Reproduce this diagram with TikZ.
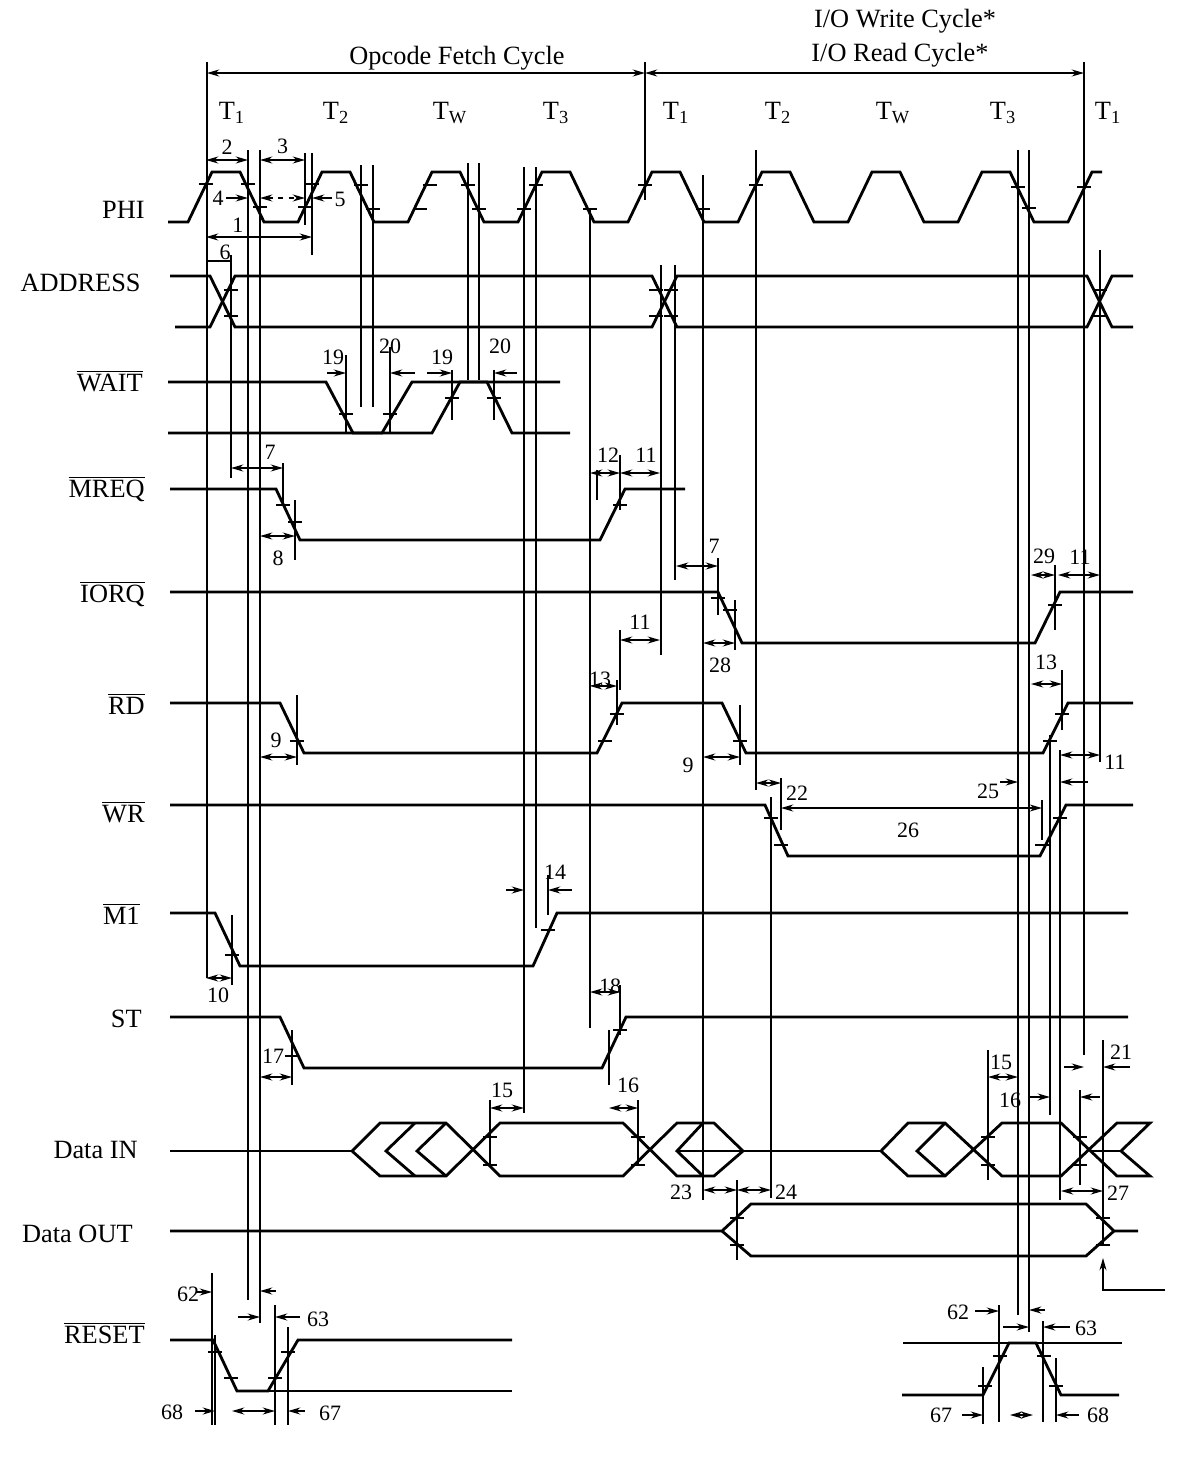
\documentclass[tikz,border=0pt]{standalone}
\usepackage{fontspec}
\setmainfont{Liberation Serif}
\usetikzlibrary{arrows.meta}

\newcommand{\vl}[3]{\draw[refline] (#1,#2) -- (#1,#3);}
\newcommand{\tk}[2]{\draw[refline] ({#1-7},#2) -- ({#1+7},#2);}

\begin{document}
\begin{tikzpicture}[
    x=0.02cm, y=-0.02cm,
    sig/.style={line width=1.6pt, line join=miter},
    refline/.style={line width=0.8pt},
    dim/.style={line width=0.8pt, >={Stealth[length=7pt,width=4pt]}},
    lbl/.style={font=\fontsize{12.5}{13}\selectfont, inner sep=1pt},
    signame/.style={font=\fontsize{15}{16}\selectfont, anchor=east, inner sep=0pt},
    headtext/.style={font=\fontsize{15}{16}\selectfont, inner sep=0pt}
]
\useasboundingbox (0,0) rectangle (1204,1458);

% headings
\node[headtext] (opfetch) at (457,58) {Opcode Fetch Cycle};
\node[headtext] (iowrite) at (905,21) {I/O Write Cycle*};
\node[headtext] (ioread) at (900,55) {I/O Read Cycle*};
\vl{207}{62}{978} \vl{645}{62}{200} \vl{1084}{62}{1055}
\draw[dim,<->] (207,73) -- (645,73);
\draw[dim,<->] (645,73) -- (1084,73);
\foreach \x/\t in {232/1,336/2,450/W,556/3,676/1,778/2,893/W,1003/3,1108/1}
    {\node[headtext] at (\x,113) {T$_{\mathrm{\t}}$};}

% signal names
\node[signame] (nphi) at (145,210) {PHI};
\node[signame] (naddr) at (141,283) {ADDRESS};
\node[signame] (nwait) at (143,381) {$\overline{\mbox{WAIT}}$};
\node[signame] (nmreq) at (145,489) {$\overline{\mbox{MREQ}}$};
\node[signame] (niorq) at (145,594) {$\overline{\mbox{IORQ}}$};
\node[signame] (nrd) at (145,704) {$\overline{\mbox{RD}}$};
\node[signame] (nwr) at (145,812) {$\overline{\mbox{WR}}$};
\node[signame] (nmone) at (140,914) {$\overline{\mbox{M1}}$};
\node[signame] (nst) at (142,1019) {ST};
\node[signame] (ndin) at (138,1150) {Data IN};
\node[signame] (ndout) at (133,1234) {Data OUT};
\node[signame] (nreset) at (145,1333) {$\overline{\mbox{RESET}}$};

% PHI clock
\draw[sig] (168,222)
  \foreach \k in {0,...,7} { -- ({188+110*\k},222) -- ({212+110*\k},172) -- ({240+110*\k},172) -- ({264+110*\k},222) -- ({298+110*\k},222) }
  -- (1068,222) -- (1092,172) -- (1102,172);

% ADDRESS
\draw[sig] (170,276) -- (210,276) -- (235,327) -- (652,327) -- (677,276) -- (1087,276) -- (1112,327) -- (1133,327);
\draw[sig] (175,327) -- (210,327) -- (235,276) -- (652,276) -- (677,327) -- (1087,327) -- (1112,276) -- (1133,276);

% WAIT
\draw[sig] (168,382) -- (326,382) -- (353,433) -- (382,433) -- (412,382) -- (560,382);
\draw[sig] (168,433) -- (432,433) -- (460,382) -- (487,382) -- (512,433) -- (570,433);

% MREQ, IORQ, RD, WR
\draw[sig] (170,489) -- (276,489) -- (300,540) -- (600,540) -- (625,489) -- (685,489);
\draw[sig] (170,592) -- (718,592) -- (742,643) -- (1035,643) -- (1060,592) -- (1133,592);
\draw[sig] (170,703) -- (280,703) -- (304,753) -- (597,753) -- (622,703) -- (722,703) -- (746,753) -- (1043,753) -- (1068,703) -- (1133,703);
\draw[sig] (170,805) -- (765,805) -- (788,856) -- (1040,856) -- (1066,805) -- (1133,805);

% M1, ST
\draw[sig] (170,913) -- (215,913) -- (240,966) -- (533,966) -- (557,913) -- (1128,913);
\draw[sig] (170,1017) -- (280,1017) -- (304,1068) -- (602,1068) -- (626,1017) -- (1128,1017);

% Data IN
\draw[sig] (170,1151) -- (352,1151);
\draw[sig] (352,1151) -- (380,1123) -- (446,1123) -- (500,1176) -- (623,1176) -- (677,1123) -- (714,1123) -- (743,1151) -- (714,1176) -- (677,1176) -- (623,1123) -- (500,1123) -- (446,1176) -- (380,1176) -- cycle;
\draw[sig] (415,1123) -- (386,1151) -- (415,1176);
\draw[sig] (446,1123) -- (417,1151) -- (446,1176);
\draw[sig] (703,1123) -- (677,1151) -- (703,1176);
\draw[sig] (677,1151) -- (881,1151);
\draw[sig] (881,1151) -- (908,1123) -- (945,1123) -- (1002,1176) -- (1061,1176) -- (1117,1123) -- (1150,1123) -- (1121,1151) -- (1150,1176) -- (1117,1176) -- (1061,1123) -- (1002,1123) -- (945,1176) -- (908,1176) -- cycle;
\draw[sig] (945,1123) -- (917,1151) -- (945,1176);
\draw[sig] (1090,1151) -- (1121,1151);

% Data OUT
\draw[sig] (170,1231) -- (722,1231) -- (751,1204) -- (1086,1204) -- (1114,1231) -- (1138,1231);
\draw[sig] (722,1231) -- (751,1256) -- (1086,1256) -- (1114,1231);

% RESET
\draw[sig] (170,1340) -- (213,1340) -- (237,1391) -- (268,1391) -- (298,1340) -- (512,1340);
\draw[sig] (237,1391) -- (512,1391);
\draw[sig] (903,1343) -- (1122,1343);
\draw[sig] (902,1395) -- (983,1395) -- (1009,1343) -- (1036,1343) -- (1061,1395) -- (1119,1395);

% reference lines
\vl{231}{255}{478} \vl{248}{150}{1300} \vl{260}{150}{1323}
\vl{305}{153}{225} \vl{312}{153}{255}
\vl{361}{165}{407} \vl{373}{165}{407} \vl{468}{163}{380} \vl{479}{163}{380}
\vl{346}{355}{432} \vl{390}{347}{432} \vl{452}{370}{420} \vl{494}{370}{420}
\vl{524}{167}{1113} \vl{536}{167}{928} \vl{590}{210}{1028}
\vl{661}{265}{655} \vl{675}{265}{580} \vl{703}{175}{1200}
\vl{756}{150}{790} \vl{771}{797}{1198}
\vl{1018}{150}{1315} \vl{1029}{150}{1332}
\vl{1050}{735}{1115} \vl{1060}{750}{1200} \vl{1100}{250}{762}
\vl{1080}{1090}{1185} \vl{1103}{1040}{1245}
% short limit marks
\vl{283}{463}{505} \vl{295}{500}{560} \vl{620}{455}{510} \vl{597}{470}{500}
\vl{620}{630}{690} \vl{718}{558}{615} \vl{735}{600}{650} \vl{1055}{565}{630}
\vl{297}{695}{765} \vl{740}{705}{765} \vl{617}{680}{725} \vl{1062}{670}{730}
\vl{781}{778}{830} \vl{1042}{800}{840}
\vl{232}{915}{985} \vl{548}{875}{915} \vl{620}{985}{1035} \vl{292}{1030}{1085} \vl{609}{1030}{1085}
\vl{490}{1100}{1165} \vl{638}{1100}{1165} \vl{988}{1050}{1180} \vl{737}{1180}{1260}
\vl{212}{1273}{1425} \vl{215}{1335}{1425} \vl{275}{1305}{1425} \vl{288}{1327}{1425}
\vl{983}{1367}{1424} \vl{999}{1305}{1422} \vl{1043}{1321}{1422} \vl{1056}{1358}{1422}

% edge marks
\foreach \x/\y in {206/184,248/184,260/207,305/207,312/184,361/185,373/209,420/209,430/185,468/185,479/209,524/209,536/185,590/209,645/185,703/209,756/185,1018/187,1029/208,1084/187,
  231/290,231/316,656/290,656/316,671/290,671/316,1100/290,1100/316,
  346/414,390/414,452/398,494/398,
  283/505,295/522,620/505,718/598,730/610,1055/605,
  297/741,605/741,617/714,740/741,1050/741,1062/714,
  771/818,781/845,1042/845,1060/818,
  232/955,548/930,292/1056,620/1030,
  490/1137,490/1165,638/1137,638/1165,988/1137,988/1165,1080/1137,1080/1165,
  737/1218,737/1245,1103/1218,1103/1245,
  215/1352,231/1378,275/1378,288/1352,985/1386,1000/1356,1044/1356,1056/1386}
  {\tk{\x}{\y}}

% timing dimensions
\draw[dim,<->] (206,160) -- (248,160) node[lbl, midway, above=2pt] (tA) {2};
\draw[dim,<->] (260,160) -- (305,160) node[lbl, midway, above=2pt] (tB) {3};
\node[lbl] (tC) at (218,198) {4};
\draw[dim,->] (226,198) -- (248,198);
\draw[dim,<->,dashed] (260,198) -- (305,198);
\draw[dim,<-] (312,198) -- (332,198);
\node[lbl] (tD) at (340,199) {5};
\draw[dim,<->] (206,237) -- (312,237) node[lbl, pos=0.3, above=1pt] (tE) {1};
\draw[refline] (206,261) -- (231,261);
\node[lbl] (tF) at (225,252) {6};
\draw[dim,->] (327,373) -- (346,373);
\node[lbl] (tG) at (333,357) {19};
\draw[dim,<-] (390,373) -- (415,373);
\node[lbl] (tH) at (390,346) {20};
\draw[dim,->] (427,373) -- (452,373);
\node[lbl] (tI) at (442,357) {19};
\draw[dim,<-] (494,373) -- (517,373);
\node[lbl] (tJ) at (500,346) {20};
\draw[dim,<->] (231,468) -- (283,468);
\node[lbl] (tK) at (270,452) {7};
\draw[dim,<->] (260,536) -- (295,536);
\node[lbl] (tL) at (278,558) {8};
\draw[dim,<->] (590,473) -- (620,473);
\node[lbl] (tM) at (608,455) {12};
\draw[dim,<->] (620,473) -- (660,473);
\node[lbl] (tN) at (646,455) {11};
\draw[dim,<->] (676,566) -- (718,566);
\node[lbl] (tO) at (714,546) {7};
\draw[dim,<->] (620,640) -- (660,640);
\node[lbl] (tP) at (640,622) {11};
\draw[dim,<->] (703,643) -- (735,643);
\node[lbl] (tQ) at (720,665) {28};
\draw[dim,<->] (1031,575) -- (1055,575);
\node[lbl] (tR) at (1044,556) {29};
\draw[dim,<->] (1058,575) -- (1100,575);
\node[lbl] (tS) at (1080,557) {11};
\draw[dim,<->] (590,686) -- (617,686);
\node[lbl] (tT) at (600,679) {13};
\draw[dim,<->] (260,757) -- (297,757);
\node[lbl] (tU) at (276,740) {9};
\draw[dim,<->] (703,757) -- (740,757);
\node[lbl] (tV) at (688,765) {9};
\draw[dim,<->] (1031,684) -- (1062,684);
\node[lbl] (tW) at (1046,662) {13};
\draw[dim,<->] (1060,755) -- (1100,755);
\node[lbl] (tX) at (1115,762) {11};
\draw[dim,<->] (756,783) -- (781,783);
\node[lbl] (tY) at (797,793) {22};
\draw[dim,->] (1000,782) -- (1018,782);
\node[lbl] (tZ) at (988,791) {25};
\draw[dim,<-] (1060,782) -- (1088,782);
\draw[dim,<->] (781,808) -- (1042,808);
\node[lbl] (taa) at (908,830) {26};
\draw[dim,->] (506,890) -- (524,890);
\draw[dim,<-] (548,890) -- (572,890);
\node[lbl] (tab) at (555,872) {14};
\draw[dim,<->] (206,978) -- (232,978);
\node[lbl] (tac) at (218,995) {10};
\draw[dim,<->] (590,992) -- (620,992);
\node[lbl] (tad) at (610,986) {18};
\draw[dim,<->] (260,1077) -- (292,1077);
\node[lbl] (tae) at (273,1056) {17};
\draw[dim,<->] (490,1108) -- (524,1108);
\node[lbl] (taf) at (502,1090) {15};
\draw[dim,<->] (609,1108) -- (638,1108);
\node[lbl] (tag) at (628,1085) {16};
\draw[dim,<->] (988,1077) -- (1018,1077);
\node[lbl] (tah) at (1001,1062) {15};
\draw[dim,->] (1028,1097) -- (1050,1097);
\node[lbl] (tai) at (1010,1100) {16};
\draw[dim,<-] (1080,1097) -- (1100,1097);
\draw[dim,->] (1064,1067) -- (1084,1067);
\draw[dim,<-] (1103,1067) -- (1130,1067);
\node[lbl] (taj) at (1121,1052) {21};
\draw[dim,<->] (703,1190) -- (737,1190);
\node[lbl] (tak) at (681,1192) {23};
\draw[dim,<->] (737,1190) -- (771,1190);
\node[lbl] (tal) at (786,1192) {24};
\draw[dim,<->] (1061,1191) -- (1103,1191);
\node[lbl] (tam) at (1118,1193) {27};
\coordinate (outref) at (1165,1290);
\draw[dim,->] (outref) -- (1103,1290) -- (1103,1258);

% RESET dimensions
\node[lbl] (tan) at (188,1294) {62};
\draw[dim,->] (196,1292) -- (212,1292);
\draw[dim,<-] (260,1291) -- (276,1291);
\draw[dim,->] (238,1317) -- (260,1317);
\draw[dim,<-] (275,1317) -- (300,1317);
\node[lbl] (tao) at (318,1319) {63};
\node[lbl] (tap) at (172,1412) {68};
\draw[dim,->] (195,1411) -- (215,1411);
\draw[dim,<->] (232,1411) -- (275,1411);
\draw[dim,<-] (288,1411) -- (305,1411);
\node[lbl] (taq) at (330,1413) {67};
\node[lbl] (tar) at (958,1312) {62};
\draw[dim,->] (975,1311) -- (999,1311);
\draw[dim,<-] (1029,1310) -- (1045,1310);
\draw[dim,->] (1003,1327) -- (1029,1327);
\draw[dim,<-] (1043,1327) -- (1070,1327);
\node[lbl] (tas) at (1086,1328) {63};
\node[lbl] (tat) at (941,1415) {67};
\draw[dim,->] (962,1415) -- (983,1415);
\draw[dim,<->] (1010,1415) -- (1033,1415);
\draw[dim,<-] (1056,1415) -- (1079,1415);
\node[lbl] (tau) at (1098,1415) {68};
\end{tikzpicture}
\end{document}
